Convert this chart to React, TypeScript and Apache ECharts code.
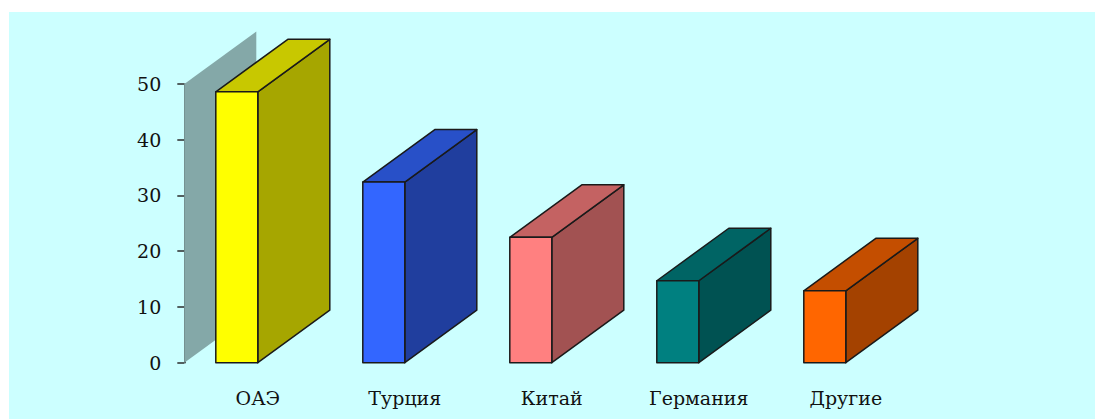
import React, { useEffect, useRef } from "react";
import * as echarts from "echarts";

const categories = ["ОАЭ", "Турция", "Китай", "Германия", "Другие"];
const values = [48.6, 32.4, 22.5, 14.7, 12.9];
const yTicks = [0, 10, 20, 30, 40, 50];

const frontColors = ["#FFFF00", "#3366FF", "#FF8080", "#008080", "#FF6600"];
const topColors = ["#C8C800", "#2850C8", "#C46262", "#006464", "#C44E00"];
const sideColors = ["#A6A600", "#203E9E", "#A25252", "#005252", "#A44200"];

const FRONT_RATIO = 42 / 147;
const DEPTH_RATIO = 72 / 147;
const DEPTH_SLOPE = 52.5 / 72;
const FONT = '"DejaVu Serif", "Liberation Serif", serif';
const EDGE = "#1a1a1a";

export default function App() {
  const ref = useRef<HTMLDivElement>(null);
  useEffect(() => {
    if (!ref.current) return;
    const chart = echarts.init(ref.current, undefined, { renderer: "svg" });
    const option: any = {
      animation: false,
      backgroundColor: "#CCFFFF",
      grid: { left: 175.3, top: 72, width: 735, height: 278.7, containLabel: false },
      xAxis: {
        type: "category",
        data: categories,
        axisLine: { show: false },
        axisTick: { show: false },
        axisLabel: { margin: 26, fontSize: 19, fontFamily: FONT, color: "#111" },
        splitLine: { show: false },
      },
      yAxis: {
        type: "value",
        min: yTicks[0],
        max: yTicks[yTicks.length - 1],
        interval: yTicks[1] - yTicks[0],
        axisLine: { show: true, lineStyle: { color: "#2a2a2a", width: 1.5 } },
        axisTick: { show: true, inside: false, length: 7, lineStyle: { color: "#2a2a2a", width: 1.5 } },
        axisLabel: { margin: 23, fontSize: 19, fontFamily: FONT, color: "#111" },
        splitLine: { show: false },
      },
      series: [
        {
          type: "custom",
          z: 1,
          data: [[0, yTicks[yTicks.length - 1]]],
          renderItem: (params: any, api: any) => {
            const x = params.coordSys.x;
            const topY = api.coord([0, api.value(1)])[1];
            const baseY = api.coord([0, 0])[1];
            const band = api.size([1, 0])[0];
            const dx = band * DEPTH_RATIO;
            const dy = dx * DEPTH_SLOPE;
            return {
              type: "polygon",
              shape: {
                points: [
                  [x, baseY],
                  [x, topY],
                  [x + dx, topY - dy],
                  [x + dx, baseY - dy],
                ],
              },
              style: { fill: "#84A8A8", stroke: "none" },
            };
          },
        },
        {
          type: "custom",
          z: 3,
          data: values.map((v, i) => [i, v]),
          renderItem: (params: any, api: any) => {
            const i = api.value(0);
            const top = api.coord([i, api.value(1)]);
            const base = api.coord([i, 0]);
            const band = api.size([1, 0])[0];
            const fw = band * FRONT_RATIO;
            const dx = band * DEPTH_RATIO;
            const dy = dx * DEPTH_SLOPE;
            const xr = top[0];
            const xl = xr - fw;
            const yt = top[1];
            const yb = base[1];
            const line = { stroke: EDGE, lineWidth: 1.5, lineJoin: "round" };
            return {
              type: "group",
              children: [
                {
                  type: "polygon",
                  shape: { points: [[xr, yb], [xr, yt], [xr + dx, yt - dy], [xr + dx, yb - dy]] },
                  style: { fill: sideColors[i], ...line },
                },
                {
                  type: "polygon",
                  shape: { points: [[xl, yt], [xl + dx, yt - dy], [xr + dx, yt - dy], [xr, yt]] },
                  style: { fill: topColors[i], ...line },
                },
                {
                  type: "polygon",
                  shape: { points: [[xl, yb], [xl, yt], [xr, yt], [xr, yb]] },
                  style: { fill: frontColors[i], ...line },
                },
              ],
            };
          },
        },
      ],
    };
    chart.setOption(option);
    return () => chart.dispose();
  }, []);
  return (
    <div style={{ position: "fixed", left: 0, top: 0, width: 1095, height: 419, background: "#FFFFFF" }}>
      <div
        ref={ref}
        style={{ position: "absolute", left: 9, top: 12, width: 1086, height: 407 }}
      />
    </div>
  );
}
